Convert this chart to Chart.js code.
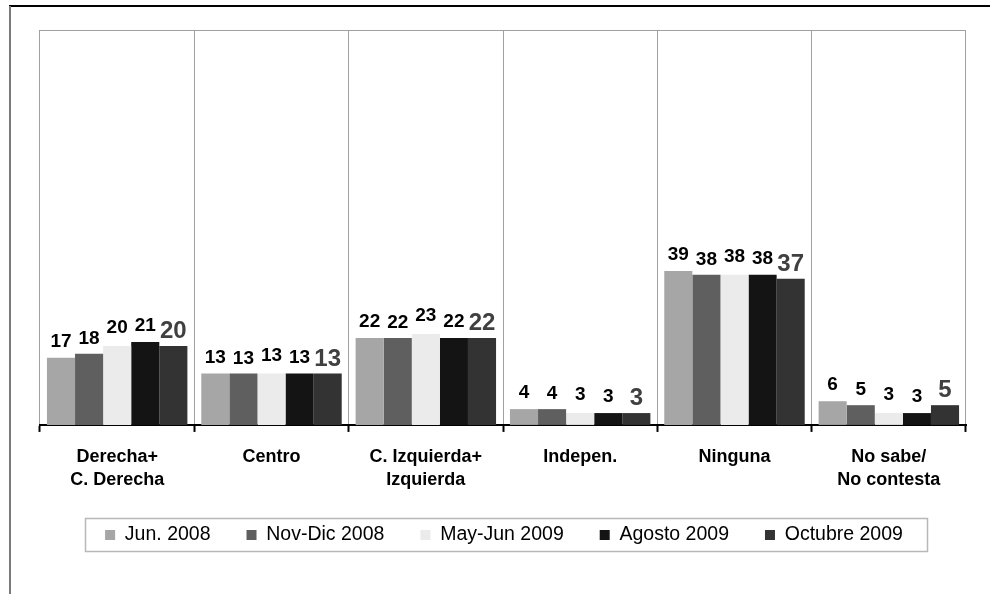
<!DOCTYPE html>
<html>
<head>
<meta charset="utf-8">
<script src="https://cdn.jsdelivr.net/npm/chart.js@4/dist/chart.umd.min.js"></script>
<style>
  html, body { margin: 0; padding: 0; background: #ffffff; }
  #wrap { position: relative; width: 990px; height: 594px; }
</style>
</head>
<body>
<div id="wrap"><canvas id="c" width="990" height="594"></canvas></div>
<script>
// ---- data ----
const categories = [
  ['Derecha+', 'C. Derecha'],
  'Centro',
  ['C. Izquierda+', 'Izquierda'],
  'Indepen.',
  'Ninguna',
  ['No sabe/', 'No contesta']
];
const seriesNames = ['Jun. 2008', 'Nov-Dic 2008', 'May-Jun 2009', 'Agosto 2009', 'Octubre 2009'];
const jun2008    = [17, 13, 22, 4, 39, 6];
const novDic2008 = [18, 13, 22, 4, 38, 5];
const mayJun2009 = [20, 13, 23, 3, 38, 3];
const agosto2009 = [21, 13, 22, 3, 38, 3];
const oct2009    = [20, 13, 22, 3, 37, 5];
const seriesValues = [jun2008, novDic2008, mayJun2009, agosto2009, oct2009];

// ---- styles ----
const colors = ['#a6a6a6', '#5f5f5f', '#ebebeb', '#141414', '#333333'];
const labelGap = [11, 10, 13, 11, 8];   // px gap above bar top for value labels
const FONT = "'Liberation Sans', Arial, sans-serif";
const LEG_FONT = 19.5, LEG_PAD = 36;

const datasets = seriesNames.map((name, i) => ({
  label: name,
  data: seriesValues[i],
  backgroundColor: colors[i],
  borderWidth: 0,
  barPercentage: 1.0,
  categoryPercentage: 0.91
}));

const decor = {
  id: 'decor',
  beforeUpdate(chart) {
    const lg = chart.legend;
    if (lg && !lg._patched) {
      const f = lg.fit;
      lg.fit = function () { f.call(this); this.height = 60; };
      lg._patched = true;
    }
  },
  afterLayout(chart) {
    const lg = chart.legend;
    if (!lg) return;
    const top = 535 - LEG_PAD - LEG_FONT / 2;
    const h = lg.height;
    lg.top = top; lg.bottom = top + h;
    lg.left += 1; lg.right += 1;
  },
  beforeDraw(chart) {
    const ctx = chart.ctx;
    ctx.save();
    ctx.fillStyle = '#ffffff';
    ctx.fillRect(0, 0, chart.width, chart.height);
    ctx.restore();
  },
  afterDraw(chart) {
    const ctx = chart.ctx;
    const a = chart.chartArea;
    ctx.save();
    // outer frame
    ctx.strokeStyle = '#000000';
    ctx.lineWidth = 2;
    ctx.beginPath(); ctx.moveTo(9, 6); ctx.lineTo(990, 6); ctx.stroke();
    ctx.strokeStyle = '#7a7a7a';
    ctx.beginPath(); ctx.moveTo(10, 6); ctx.lineTo(10, 594); ctx.stroke();
    // plot frame top
    ctx.strokeStyle = '#a0a0a0';
    ctx.lineWidth = 1;
    ctx.beginPath(); ctx.moveTo(a.left, Math.round(a.top) + 0.5); ctx.lineTo(a.right, Math.round(a.top) + 0.5); ctx.stroke();

    // legend border
    const hb = chart.legend.legendHitBoxes;
    if (hb && hb.length) {
      const first = hb[0], last = hb[hb.length - 1];
      const l = first.left - 20, r = last.left + last.width + 24;
      ctx.strokeStyle = '#b8b8b8';
      ctx.lineWidth = 1.5;
      ctx.strokeRect(Math.round(l) + 0.5, 518.5, Math.round(r - l), 33);
    }

    // value labels
    ctx.textAlign = 'center';
    ctx.textBaseline = 'alphabetic';
    chart.data.datasets.forEach((ds, i) => {
      const meta = chart.getDatasetMeta(i);
      const big = i === 4;
      ctx.font = 'bold ' + (big ? 24 : 19) + 'px ' + FONT;
      ctx.fillStyle = big ? '#404040' : '#000000';
      meta.data.forEach((bar, j) => {
        ctx.fillText(String(ds.data[j]), bar.x, bar.y - labelGap[i]);
      });
    });
    ctx.restore();
  }
};

new Chart(document.getElementById('c'), {
  type: 'bar',
  data: { labels: categories, datasets: datasets },
  options: {
    responsive: false,
    animation: false,
    devicePixelRatio: 1,
    layout: { padding: { left: 40, right: 24, top: 30, bottom: 29 } },
    scales: {
      x: {
        grid: { offset: true, color: '#a0a0a0', lineWidth: 1, tickColor: '#000000', tickLength: 7, tickWidth: 2, drawOnChartArea: true },
        border: { display: true, color: '#000000', width: 2 },
        ticks: {
          font: { family: FONT, size: 18, weight: 'bold', lineHeight: 1.28 },
          color: '#000000', padding: 13.5, maxRotation: 0, autoSkip: false
        }
      },
      y: { display: false, min: 0, max: 100 }
    },
    plugins: {
      legend: {
        position: 'bottom',
        labels: {
          boxWidth: 10, boxHeight: 10, padding: LEG_PAD,
          color: '#000000',
          font: { family: FONT, size: LEG_FONT }
        }
      },
      tooltip: { enabled: false }
    }
  },
  plugins: [decor]
});
</script>
</body>
</html>
